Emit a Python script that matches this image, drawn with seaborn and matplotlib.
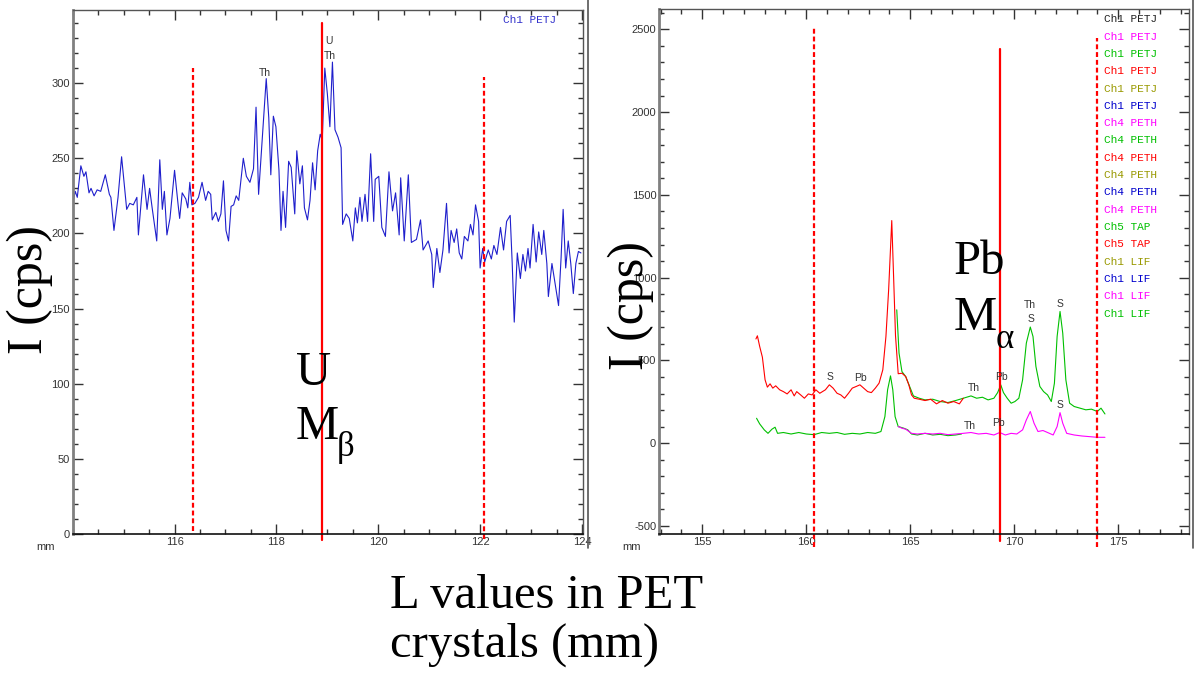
import numpy as np
import pandas as pd
import matplotlib.pyplot as plt
import seaborn as sns
from matplotlib.ticker import MultipleLocator
from matplotlib.lines import Line2D

# -----------------------------
# Left scan: U M-beta region (Ch1 PETJ)
# -----------------------------
u_mm = [114.00, 114.05, 114.09, 114.16, 114.22, 114.26, 114.32, 114.36, 114.42, 114.48,
        114.55, 114.64, 114.72, 114.75, 114.81, 114.89, 114.96, 115.06, 115.12, 115.19,
        115.26, 115.29, 115.39, 115.46, 115.51, 115.56, 115.65, 115.71, 115.76, 115.80,
        115.85, 115.91, 116.00, 116.07, 116.10, 116.15, 116.22, 116.26, 116.30, 116.34,
        116.40, 116.47, 116.54, 116.61, 116.66, 116.71, 116.74, 116.81, 116.86, 116.91,
        116.96, 117.01, 117.06, 117.11, 117.16, 117.21, 117.26, 117.35, 117.41, 117.48,
        117.55, 117.60, 117.65, 117.72, 117.80, 117.85, 117.89, 117.94, 117.99, 118.05,
        118.09, 118.13, 118.18, 118.24, 118.29, 118.36, 118.40, 118.46, 118.51, 118.55,
        118.61, 118.66, 118.71, 118.76, 118.81, 118.86, 118.90, 118.95, 119.00, 119.05,
        119.10, 119.15, 119.21, 119.27, 119.30, 119.37, 119.43, 119.50, 119.55, 119.59,
        119.64, 119.68, 119.74, 119.79, 119.85, 119.91, 119.94, 120.01, 120.07, 120.14,
        120.21, 120.28, 120.34, 120.41, 120.44, 120.51, 120.59, 120.65, 120.75, 120.83,
        120.88, 120.98, 121.05, 121.08, 121.15, 121.21, 121.27, 121.34, 121.39, 121.43,
        121.49, 121.54, 121.59, 121.64, 121.69, 121.76, 121.81, 121.86, 121.91, 121.97,
        122.00, 122.05, 122.09, 122.16, 122.22, 122.27, 122.33, 122.40, 122.46, 122.52,
        122.59, 122.63, 122.67, 122.73, 122.79, 122.84, 122.89, 122.94, 122.98, 123.04,
        123.10, 123.15, 123.21, 123.25, 123.31, 123.34, 123.41, 123.47, 123.54, 123.59,
        123.63, 123.68, 123.73, 123.78, 123.83, 123.88, 123.93, 123.98]
u_cps = [220, 228, 224, 245, 238, 241, 227, 230, 225, 229,
         228, 239, 226, 224, 202, 224, 251, 216, 220, 219,
         224, 199, 239, 216, 230, 217, 195, 249, 216, 228,
         199, 210, 242, 219, 210, 227, 223, 217, 234, 219,
         220, 224, 234, 222, 228, 226, 209, 214, 208, 213,
         235, 202, 195, 218, 219, 225, 222, 250, 238, 234,
         243, 284, 226, 262, 303, 277, 239, 278, 271, 242,
         202, 228, 204, 248, 244, 213, 255, 233, 245, 217,
         209, 222, 247, 229, 255, 266, 262, 310, 293, 271,
         314, 269, 264, 257, 206, 213, 210, 195, 217, 207,
         224, 208, 226, 208, 253, 208, 236, 238, 204, 198,
         241, 215, 227, 199, 237, 195, 239, 194, 196, 209,
         189, 195, 186, 164, 190, 174, 189, 220, 187, 202,
         194, 203, 187, 183, 198, 195, 206, 199, 219, 208,
         177, 190, 181, 189, 183, 192, 186, 204, 189, 208,
         212, 180, 141, 187, 170, 186, 175, 190, 177, 206,
         181, 201, 186, 202, 180, 158, 180, 167, 152, 184,
         216, 177, 195, 180, 160, 180, 188, 187]

# -----------------------------
# Right scan: Pb M-alpha region
# -----------------------------
pb_red_mm = [157.58, 157.65, 157.76, 157.89, 158.02, 158.13, 158.26, 158.39, 158.53, 158.72,
             158.90, 159.08, 159.27, 159.42, 159.54, 159.73, 159.91, 160.10, 160.28, 160.46,
             160.65, 160.92, 161.11, 161.29, 161.48, 161.66, 161.84, 162.03, 162.21, 162.40,
             162.58, 162.76, 162.95, 163.13, 163.32, 163.50, 163.68, 163.83, 163.96, 164.11,
             164.20, 164.29, 164.42, 164.60, 164.78, 164.93, 165.06, 165.19, 165.43, 165.71,
             165.98, 166.26, 166.54, 166.81, 167.09, 167.36, 167.55]
pb_red_cps = [630, 649, 585, 520, 383, 339, 359, 333, 347, 323,
              312, 298, 323, 286, 312, 292, 272, 298, 292, 323,
              302, 323, 353, 333, 302, 292, 272, 302, 333, 343,
              353, 333, 312, 306, 333, 363, 444, 645, 927, 1345,
              1000, 650, 420, 423, 403, 353, 292, 272, 266, 258,
              266, 238, 258, 242, 252, 238, 272]

pb_green_hi_mm = [164.35, 164.46, 164.60, 164.78, 164.97, 165.15, 165.43, 165.71, 166.08, 166.44,
                  166.81, 167.18, 167.55, 167.92, 168.19, 168.47, 168.74, 169.02, 169.20, 169.35,
                  169.48, 169.66, 169.85, 170.03, 170.22, 170.40, 170.58, 170.77, 170.90, 171.04,
                  171.23, 171.41, 171.60, 171.78, 171.93, 172.06, 172.20, 172.33, 172.48, 172.66,
                  172.88, 173.16, 173.44, 173.71, 173.99, 174.17, 174.36]
pb_green_hi_cps = [806, 544, 433, 403, 343, 286, 272, 262, 266, 252,
                   246, 258, 272, 286, 272, 278, 262, 272, 306, 353,
                   306, 272, 242, 252, 272, 383, 605, 702, 645, 464,
                   343, 312, 292, 252, 363, 645, 796, 665, 383, 242,
                   222, 212, 202, 206, 192, 212, 177]

pb_green_lo_mm = [157.61, 157.76, 157.98, 158.16, 158.35, 158.50, 158.62, 158.90, 159.27, 159.64,
                  160.00, 160.37, 160.74, 161.11, 161.48, 161.84, 162.21, 162.58, 162.95, 163.32,
                  163.59, 163.78, 163.91, 164.05, 164.16, 164.27, 164.42, 164.69, 164.88, 165.06,
                  165.34, 165.71, 166.08, 166.44, 166.81, 167.18, 167.46]
pb_green_lo_cps = [151, 117, 81, 60, 85, 97, 60, 65, 56, 65,
                   56, 52, 65, 60, 65, 54, 60, 56, 65, 60,
                   71, 161, 323, 407, 323, 161, 101, 91, 81, 56,
                   50, 60, 50, 54, 46, 50, 56]

pb_mag_mm = [164.42, 164.60, 164.78, 165.06, 165.34, 165.71, 166.08, 166.44, 166.81, 167.18,
             167.55, 167.92, 168.28, 168.65, 169.02, 169.30, 169.57, 169.85, 170.12, 170.40,
             170.58, 170.77, 170.95, 171.14, 171.38, 171.60, 171.87, 172.06, 172.20, 172.33,
             172.52, 172.88, 173.25, 173.62, 173.99, 174.36]
pb_mag_cps = [101, 91, 85, 60, 56, 60, 56, 60, 52, 56,
              60, 65, 56, 60, 50, 65, 50, 60, 56, 81,
              141, 192, 121, 71, 77, 65, 50, 101, 185, 121,
              60, 50, 44, 40, 36, 36]

# channel list shown at top right of the Pb scan
channel_labels = ["Ch1 PETJ"] * 6 + ["Ch4 PETH"] * 6 + ["Ch5 TAP"] * 2 + ["Ch1 LIF"] * 4
channel_colors = ["#222222", "#ff00ff", "#00c000", "#ff0000", "#999900", "#0000cc",
                  "#ff00ff", "#00c000", "#ff0000", "#999900", "#0000cc", "#ff00ff",
                  "#00c000", "#ff0000", "#999900", "#0000cc", "#ff00ff", "#00c000"]

# peak markers
u_peak_labels = ["Th", "U", "Th"]
u_peak_mm = [117.78, 119.04, 119.04]
u_peak_cps = [307, 328, 318]
pb_peak_labels = ["S", "Pb", "Th", "Pb", "Th", "S", "S", "Th", "Pb", "S"]
pb_peak_mm = [161.16, 162.60, 168.06, 169.39, 170.77, 170.80, 172.18, 167.88, 169.26, 172.18]
pb_peak_cps = [399, 393, 335, 399, 833, 750, 839, 105, 121, 232]

# -----------------------------
# Figure
# -----------------------------
sns.set_style("ticks")
plt.rcParams['font.family'] = ['Liberation Sans', 'DejaVu Sans']
plt.rcParams['axes.unicode_minus'] = False
plt.rcParams['text.color'] = 'black'

fig = plt.figure(figsize=(12, 6.74), dpi=100)
ax1 = fig.add_axes([72.7 / 1200, 1 - 534 / 674, 510.3 / 1200, 524.5 / 674])
ax2 = fig.add_axes([659 / 1200, 1 - 534 / 674, 530 / 1200, 524.7 / 674])

sns.lineplot(x=u_mm, y=u_cps, ax=ax1, color="#1f1fcc", lw=0.8, estimator=None, sort=False)
sns.lineplot(x=pb_green_lo_mm, y=pb_green_lo_cps, ax=ax2, color="#00c000", lw=0.8, estimator=None, sort=False)
sns.lineplot(x=pb_mag_mm, y=pb_mag_cps, ax=ax2, color="#ff00ff", lw=0.8, estimator=None, sort=False)
sns.lineplot(x=pb_green_hi_mm, y=pb_green_hi_cps, ax=ax2, color="#00c000", lw=0.8, estimator=None, sort=False)
sns.lineplot(x=pb_red_mm, y=pb_red_cps, ax=ax2, color="#ff0000", lw=0.8, estimator=None, sort=False)

ax1.set_xlim(114.0, 124.02)
ax1.set_ylim(0, 349)
ax2.set_xlim(152.92, 178.4)
ax2.set_ylim(-548, 2621)

ax1.set_xticks([116, 118, 120, 122, 124])
ax1.xaxis.set_minor_locator(MultipleLocator(0.5))
ax1.yaxis.set_major_locator(MultipleLocator(50))
ax1.yaxis.set_minor_locator(MultipleLocator(10))
ax2.xaxis.set_major_locator(MultipleLocator(5))
ax2.xaxis.set_minor_locator(MultipleLocator(1))
ax2.yaxis.set_major_locator(MultipleLocator(500))
ax2.yaxis.set_minor_locator(MultipleLocator(100))

for ax in (ax1, ax2):
    ax.set_xlabel("")
    ax.set_ylabel("")
    ax.tick_params(which="both", direction="in", top=True, right=True,
                   labelsize=8, labelcolor="#333333", color="#333333", pad=2)
    ax.tick_params(which="major", length=7, width=1)
    ax.tick_params(which="minor", length=3.5, width=1)
    ax.spines["left"].set_color("#808080")
    ax.spines["left"].set_linewidth(2)
    ax.spines["bottom"].set_color("#111111")
    ax.spines["bottom"].set_linewidth(1.2)
    for s in ("top", "right"):
        ax.spines[s].set_visible(True)
        ax.spines[s].set_color("#555555")
        ax.spines[s].set_linewidth(1)
    ax.text(-0.035, -0.015, "mm", transform=ax.transAxes, ha="right", va="top",
            fontsize=8, color="#333333")

# red guide lines (window limits and peak position)
dash = (0, (2.2, 1.3))
ax1.plot([116.37, 116.37], [2, 310], color="red", lw=1.6, ls=dash, clip_on=False)
ax1.plot([122.08, 122.08], [-3, 304], color="red", lw=1.6, ls=dash, clip_on=False)
ax1.plot([118.90, 118.90], [-4, 340], color="red", lw=1.6, clip_on=False)
ax2.plot([160.39, 160.39], [-626, 2516], color="red", lw=1.6, ls=dash, clip_on=False)
ax2.plot([173.97, 173.97], [-626, 2449], color="red", lw=1.6, ls=dash, clip_on=False)
ax2.plot([169.31, 169.31], [-588, 2379], color="red", lw=1.6, clip_on=False)

# peak markers
for lab, x, y in zip(u_peak_labels, u_peak_mm, u_peak_cps):
    ax1.text(x, y, lab, ha="center", va="center", fontsize=7.5, color="#333333")
for lab, x, y in zip(pb_peak_labels, pb_peak_mm, pb_peak_cps):
    ax2.text(x, y, lab, ha="center", va="center", fontsize=7.5, color="#333333")

# channel labels
ax1.text(0.843, 0.98, "Ch1 PETJ", transform=ax1.transAxes, ha="left", va="center",
         fontsize=8, color="#3333cc", family="Liberation Mono")
for i, (lab, col) in enumerate(zip(channel_labels, channel_colors)):
    ax2.text(0.84, 0.981 - i * 0.033, lab, transform=ax2.transAxes, ha="left", va="center",
             fontsize=8, color=col, family="Liberation Mono")

# big serif annotations
serif = "Liberation Serif"
ax1.text(118.39, 99, "U", ha="left", va="baseline", fontsize=35, family=serif, color="black")
ax1.text(118.37, 63, "M", ha="left", va="baseline", fontsize=35, family=serif, color="black")
ax1.text(119.19, 52, "β", ha="left", va="baseline", fontsize=25, family=serif, color="black")
ax2.text(167.09, 1020, "Pb", ha="left", va="baseline", fontsize=35, family=serif, color="black")
ax2.text(167.09, 685, "M", ha="left", va="baseline", fontsize=35, family=serif, color="black")
ax2.text(169.11, 575, "α", ha="left", va="baseline", fontsize=25, family=serif, color="black")

fig.text(30 / 1200, 1 - 290 / 674, "I (cps)", rotation=90, ha="center", va="center",
         fontsize=36, family=serif, color="black")
fig.text(631 / 1200, 1 - 305 / 674, "I (cps)", rotation=90, ha="center", va="center",
         fontsize=36, family=serif, color="black")
fig.text(390 / 1200, 1 - 608 / 674, "L values in PET", ha="left", va="baseline",
         fontsize=35, family=serif, color="black")
fig.text(390 / 1200, 1 - 657 / 674, "crystals (mm)", ha="left", va="baseline",
         fontsize=35, family=serif, color="black")

# panel frame lines of the screenshot
fig.add_artist(Line2D([588 / 1200] * 2, [1, 1 - 548 / 674], transform=fig.transFigure,
                      color="#555555", lw=1.2))
fig.add_artist(Line2D([1193 / 1200] * 2, [1, 1 - 548 / 674], transform=fig.transFigure,
                      color="#555555", lw=1.2))

fig.savefig("out.png", dpi=100, facecolor="white")
